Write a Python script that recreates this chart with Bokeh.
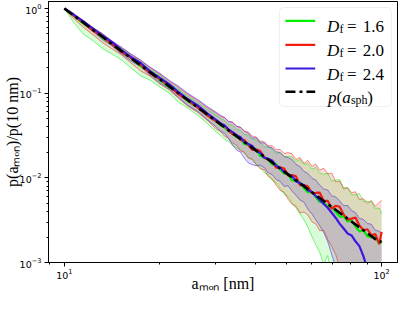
import numpy as np
from bokeh.plotting import figure
from bokeh.models import Range1d, FixedTicker, BoxAnnotation, Label
from bokeh.embed import file_html
from bokeh.resources import INLINE

# ---------------- data ----------------
a_nm = [10.0, 10.7, 11.5, 12.3, 13.2, 14.1, 15.1, 16.2, 17.4, 18.6, 20.0, 21.4, 22.9, 24.5, 26.3, 28.2, 30.2,
        31.1, 32.0, 32.9, 33.9, 34.9, 35.9, 36.9, 38.0, 39.1, 40.3, 41.4, 42.7, 43.9, 45.2, 46.5, 47.9, 49.3,
        50.7, 52.2, 53.7, 55.3, 56.9, 58.5, 60.3, 62.0, 63.8, 65.7, 67.6, 69.6, 71.6, 73.7, 75.9, 78.1, 80.4,
        82.7, 85.1, 87.6, 90.2, 92.8, 95.5, 98.3, 100.0]

p_green_lower = [1.00, 0.684, 0.492, 0.418, 0.335, 0.292, 0.248, 0.199, 0.160, 0.143, 0.118, 0.100, 0.0783, 0.0664, 0.0547, 0.0441, 0.0344,
                 0.0318, 0.0285, 0.0270, 0.0243, 0.0224, 0.0219, 0.0196, 0.0172, 0.0163, 0.0143, 0.0135, 0.0115, 0.0109, 0.00929,
                 0.00881, 0.00752, 0.00638, 0.00605, 0.00501, 0.00440, 0.00374, 0.00318, 0.00264, 0.00202, 0.00163, 0.00131,
                 0.00095, 0.00121, 0.00069, 0.00083, 0.00055, 0.00092, 0.00045, 0.00065, 0.00035, 0.00096, 0.00030, 0.00045,
                 0.00025, 0.00050, 0.00020, 0.00030]
p_green_upper = [1.00, 0.849, 0.700, 0.593, 0.489, 0.404, 0.343, 0.275, 0.233, 0.192, 0.163, 0.131, 0.111, 0.0918, 0.0778, 0.0643, 0.0545,
                 0.0502, 0.0476, 0.0428, 0.0418, 0.0375, 0.0365, 0.0328, 0.0320, 0.0287, 0.0280, 0.0265, 0.0232, 0.0233, 0.0220,
                 0.0193, 0.0199, 0.0178, 0.0179, 0.0177, 0.0156, 0.0165, 0.0144, 0.0148, 0.0126, 0.0133, 0.01135, 0.0110, 0.0114,
                 0.00918, 0.00944, 0.00950, 0.00762, 0.00765, 0.00631, 0.00632, 0.00650, 0.00525, 0.00528, 0.00522, 0.00436,
                 0.00440, 0.00373]
p_green = [1.00, 0.826, 0.662, 0.562, 0.451, 0.383, 0.308, 0.261, 0.209, 0.177, 0.143, 0.118, 0.0998, 0.0802, 0.0679, 0.0546, 0.0463,
           0.0416, 0.0394, 0.0354, 0.0337, 0.0302, 0.0294, 0.0251, 0.0244, 0.0219, 0.0214, 0.0182, 0.0173, 0.0164, 0.0143,
           0.0144, 0.0125, 0.0113, 0.0110, 0.00933, 0.00910, 0.00887, 0.00755, 0.00678, 0.00683, 0.00594, 0.00519, 0.00521,
           0.00455, 0.00458, 0.00398, 0.00348, 0.00350, 0.00305, 0.00313, 0.00267, 0.00233, 0.00240, 0.00204, 0.00199,
           0.00201, 0.00165, 0.00180]

p_red_lower = [1.00, 0.762, 0.594, 0.491, 0.394, 0.334, 0.284, 0.228, 0.183, 0.159, 0.128, 0.109, 0.0871, 0.0701, 0.0593, 0.0478, 0.0373,
               0.0354, 0.0310, 0.0293, 0.0257, 0.0244, 0.0207, 0.0202, 0.0172, 0.0167, 0.0143, 0.0128, 0.0125, 0.01035, 0.00979,
               0.00813, 0.00711, 0.00675, 0.00558, 0.00489, 0.00463, 0.00384, 0.00395, 0.00364, 0.00302, 0.00286, 0.00237,
               0.00241, 0.00187, 0.00155, 0.00125, 0.00088, 0.00067, 0.00069, 0.00046, 0.00090, 0.00035, 0.00060, 0.00025,
               0.00040, 0.00020, 0.00035, 0.00025]
p_red_upper = [1.00, 0.849, 0.718, 0.593, 0.502, 0.415, 0.343, 0.290, 0.240, 0.203, 0.168, 0.139, 0.117, 0.0968, 0.0820, 0.0678, 0.0575,
               0.0531, 0.0516, 0.0463, 0.0453, 0.0406, 0.0396, 0.0356, 0.0347, 0.0312, 0.0303, 0.0272, 0.0266, 0.0239, 0.0240,
               0.0215, 0.0216, 0.0193, 0.0199, 0.0192, 0.0165, 0.0174, 0.0148, 0.0161, 0.0137, 0.0145, 0.0123, 0.0130, 0.0111,
               0.0114, 0.00893, 0.00918, 0.00741, 0.00762, 0.00667, 0.00685, 0.00553, 0.00569, 0.00498, 0.00540, 0.00460,
               0.00513, 0.00545]
p_red = [1.00, 0.826, 0.681, 0.547, 0.463, 0.383, 0.308, 0.261, 0.215, 0.173, 0.147, 0.121, 0.0970, 0.0824, 0.0679, 0.0546, 0.0463,
         0.0428, 0.0406, 0.0364, 0.0327, 0.0319, 0.0279, 0.0281, 0.0244, 0.0214, 0.0216, 0.0208, 0.0173, 0.0164, 0.0159,
         0.0132, 0.0133, 0.0129, 0.0107, 0.0108, 0.0104, 0.00818, 0.00820, 0.00796, 0.00661, 0.00663, 0.00668, 0.00533,
         0.00535, 0.00432, 0.00468, 0.00455, 0.00368, 0.00321, 0.00330, 0.00340, 0.00274, 0.00240, 0.00247, 0.00210,
         0.00216, 0.00165, 0.00230]

p_blue_lower = [1.00, 0.804, 0.646, 0.533, 0.428, 0.363, 0.292, 0.240, 0.204, 0.164, 0.132, 0.112, 0.0895, 0.0719, 0.0610, 0.0490, 0.0394,
                0.0354, 0.0336, 0.0293, 0.0243, 0.0213, 0.0202, 0.0171, 0.0150, 0.0143, 0.0139, 0.0141, 0.0132, 0.0115, 0.0109,
                0.00955, 0.00908, 0.00792, 0.00804, 0.00693, 0.00624, 0.00546, 0.00516, 0.00429, 0.00375, 0.00319, 0.00272,
                0.00225, 0.00177, 0.00124, 0.00088, 0.00060, 0.00040, 0.00055, 0.00030, 0.00045, 0.00025, 0.00035, 0.00020,
                0.00030, 0.00015, 0.00025, 0.00020]
p_blue_upper = [1.00, 0.849, 0.718, 0.593, 0.502, 0.415, 0.352, 0.290, 0.247, 0.203, 0.172, 0.142, 0.1205, 0.0995, 0.0843, 0.0697, 0.0590,
                0.0545, 0.0516, 0.0463, 0.0453, 0.0406, 0.0396, 0.0356, 0.0338, 0.0295, 0.0297, 0.0258, 0.0259, 0.0232, 0.0226,
                0.0203, 0.0199, 0.0178, 0.0173, 0.0164, 0.0144, 0.0136, 0.0119, 0.0113, 0.00991, 0.00940, 0.00820, 0.00738,
                0.00719, 0.00612, 0.00596, 0.00536, 0.00469, 0.00472, 0.00410, 0.00389, 0.00331, 0.00323, 0.00290, 0.00282,
                0.00240, 0.00234, 0.00217]
p_blue = [1.00, 0.849, 0.700, 0.578, 0.476, 0.404, 0.325, 0.268, 0.227, 0.182, 0.151, 0.128, 0.1026, 0.0847, 0.0716, 0.0577, 0.0476,
          0.0440, 0.0416, 0.0374, 0.0346, 0.0319, 0.0302, 0.0264, 0.0251, 0.0238, 0.0208, 0.0197, 0.0173, 0.0168, 0.0159,
          0.0139, 0.0132, 0.0116, 0.0110, 0.0104, 0.00910, 0.00863, 0.00818, 0.00714, 0.00679, 0.00610, 0.00548, 0.00492,
          0.00443, 0.00387, 0.00338, 0.00288, 0.00252, 0.00220, 0.00209, 0.00178, 0.00156, 0.00119, 0.00084, 0.00061,
          0.00049, 0.00039, 0.00033]

a_sph = [10.0, 12.3, 15.1, 18.6, 22.9, 28.2, 34.9, 42.7, 52.2, 63.8, 78.1, 97.0, 100.0]
p_sph = [1.0, 0.562, 0.316, 0.1774, 0.0998, 0.0561, 0.0310, 0.01774, 0.01012, 0.00578, 0.00330, 0.00181, 0.00175]

df_values = ["1.6", "2.0", "2.4"]
x_label = "aₘₒₙ [nm]"
y_label = "p(aₘₒₙ)/p(10 nm)"
x_major = [10, 100]
x_minor = [9, 20, 30, 40, 50, 60, 70, 80, 90]
y_major = [1e-3, 1e-2, 1e-1, 1.0]
y_minor = [2e-3, 3e-3, 4e-3, 5e-3, 6e-3, 7e-3, 8e-3, 9e-3,
           2e-2, 3e-2, 4e-2, 5e-2, 6e-2, 7e-2, 8e-2, 9e-2,
           2e-1, 3e-1, 4e-1, 5e-1, 6e-1, 7e-1, 8e-1, 9e-1]

# ---------------- style ----------------
GREEN = "#00ee00"
RED = "#f01c10"
BLUE = "#3a18e0"
SERIF = "Liberation Serif"

X0, X1 = 8.91, 112.2
Y0, Y1 = 1e-3, 1.21
FL, FT, FW, FH = 54, 9, 352, 261   # expected frame position on the page (px)


def dx(px):
    lx0, lx1 = np.log10(X0), np.log10(X1)
    return float(10 ** (lx0 + (px - FL) / FW * (lx1 - lx0)))


def dy(py):
    ly0, ly1 = np.log10(Y0), np.log10(Y1)
    return float(10 ** (ly1 - (py - FT) / FH * (ly1 - ly0)))


p = figure(width=399, height=299, x_axis_type="log", y_axis_type="log",
           x_range=Range1d(X0, X1), y_range=Range1d(Y0, Y1),
           output_backend="svg", toolbar_location=None,
           min_border_left=46, min_border_right=2, min_border_top=1, min_border_bottom=37)
p.background_fill_color = "white"
p.border_fill_color = "white"
p.outline_line_color = "black"
p.outline_line_width = 1
p.xgrid.visible = False
p.ygrid.visible = False

p.xaxis.ticker = FixedTicker(ticks=x_major, minor_ticks=x_minor)
p.yaxis.ticker = FixedTicker(ticks=y_major, minor_ticks=y_minor)
for ax in (p.xaxis, p.yaxis):
    ax.major_tick_out = 4
    ax.major_tick_in = 0
    ax.minor_tick_out = 2
    ax.minor_tick_in = 0
    ax.axis_line_color = "black"
    ax.major_tick_line_color = "black"
    ax.minor_tick_line_color = "black"
    ax.major_label_text_font = "DejaVu Sans"
    ax.major_label_text_font_size = "9.5px"
    ax.major_label_text_color = "black"
    ax.axis_label_text_font = SERIF
    ax.axis_label_text_font_size = "16px"
    ax.axis_label_text_font_style = "normal"
    ax.axis_label_text_color = "black"
    ax.axis_label_text_line_height = 0.8
p.xaxis.axis_label_standoff = -7
p.yaxis.axis_label_standoff = -4
p.xaxis.major_label_standoff = 2
p.yaxis.major_label_standoff = 3
p.xaxis.axis_label = x_label
p.yaxis.axis_label = y_label

# fills
for lo, hi, c in ((p_green_lower, p_green_upper, GREEN),
                  (p_red_lower, p_red_upper, RED),
                  (p_blue_lower, p_blue_upper, BLUE)):
    p.varea(x=a_nm, y1=lo, y2=hi, fill_color=c, fill_alpha=0.15)
# thin envelope lines
for lo, hi, c in ((p_green_lower, p_green_upper, GREEN),
                  (p_red_lower, p_red_upper, RED),
                  (p_blue_lower, p_blue_upper, BLUE)):
    p.line(a_nm, lo, line_color=c, line_alpha=0.5, line_width=1)
    p.line(a_nm, hi, line_color=c, line_alpha=0.5, line_width=1)
# main lines
p.line(a_nm, p_green, line_color=GREEN, line_width=2.2)
p.line(a_nm, p_red, line_color=RED, line_width=2.2)
p.line(a_nm, p_blue, line_color=BLUE, line_width=2.2)
p.line(a_sph, p_sph, line_color="black", line_width=2.6, line_dash="10 4 3 4")

# ---------------- legend (drawn by hand) ----------------
box = BoxAnnotation(left=dx(287), right=dx(400), top=dy(15), bottom=dy(114),
                    fill_color="white", fill_alpha=0.8, line_color="#cccccc",
                    line_width=1, border_radius=4, level="underlay")
p.add_layout(box)

rows = [28.3, 52.3, 76.0, 99.3]
colors = [GREEN, RED, BLUE]
for r, c in zip(rows[:3], colors):
    p.line([dx(293), dx(323)], [dy(r), dy(r)], line_color=c, line_width=2.2)
p.line([dx(293), dx(323)], [dy(rows[3]), dy(rows[3])], line_color="black",
       line_width=2.6, line_dash="10 4 3 4")


def lab(text, px, py, size, style="normal"):
    p.add_layout(Label(x=dx(px), y=dy(py), text=text, text_font=SERIF,
                       text_font_size=f"{size}px", text_font_style=style,
                       text_color="black", text_align="left",
                       text_baseline="alphabetic"))


for r, val in zip(rows[:3], df_values):
    b = r + 5.5
    lab("D", 335, b, 17, "italic")
    lab("f", 347.5, b + 3, 12)
    lab("=", 355, b, 17)
    lab(val, 371, b, 17)
b = rows[3] + 5.5
lab("p", 336, b, 17, "italic")
lab("(", 344.5, b, 17)
lab("a", 350.2, b, 17, "italic")
lab("sph", 359, b + 3, 12)
lab(")", 375.5, b, 17)

open("out.html", "w").write(file_html(p, INLINE))
